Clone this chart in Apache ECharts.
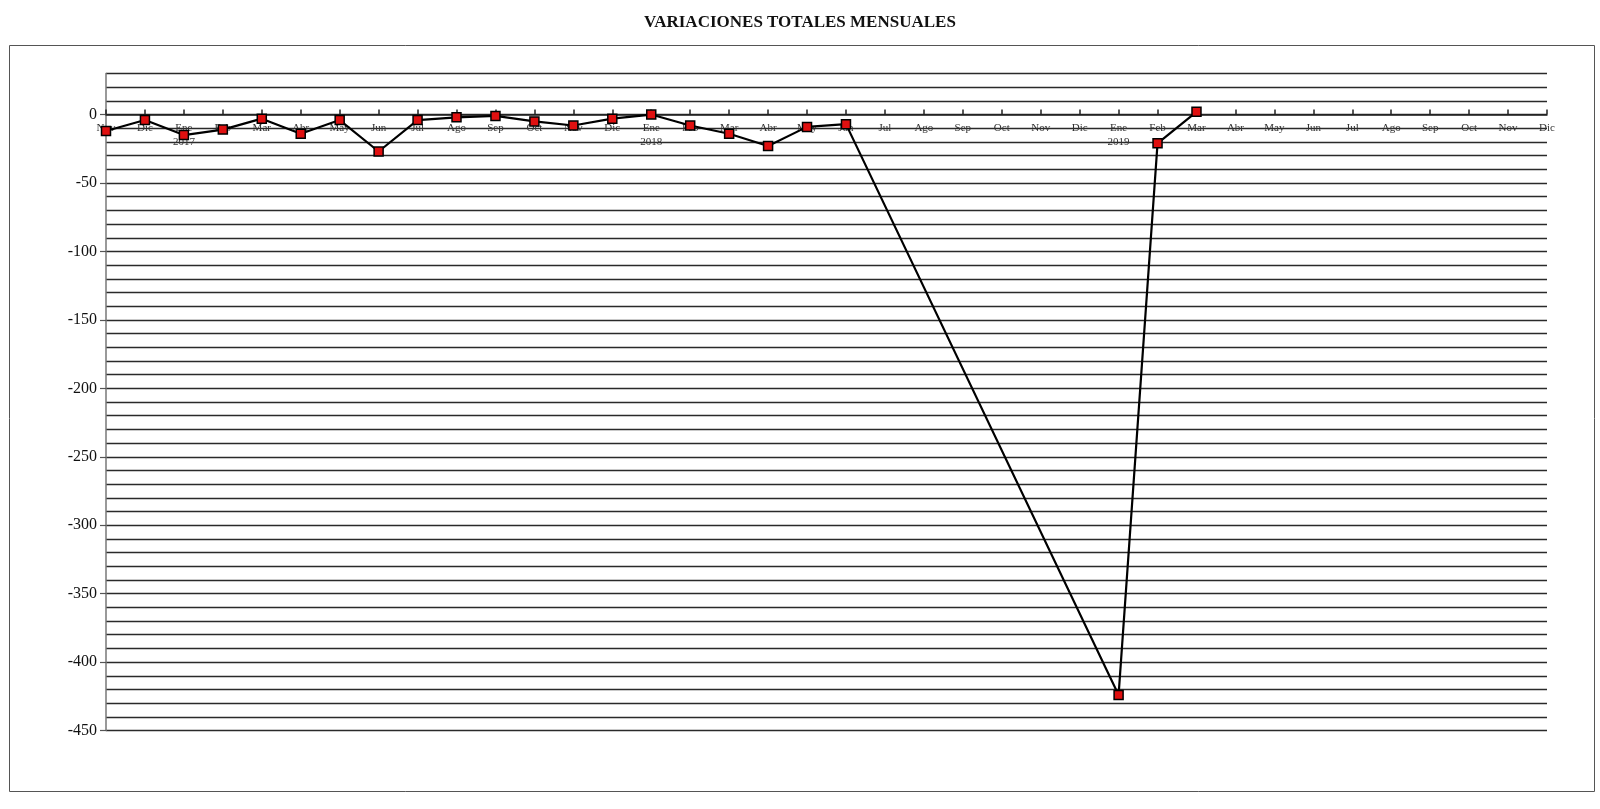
<!DOCTYPE html>
<html>
<head>
<meta charset="utf-8">
<script src="https://cdn.jsdelivr.net/npm/echarts@6/dist/echarts.min.js"></script>
<style>
html,body{margin:0;padding:0;background:#fff;}
#chart{width:1600px;height:809px;}
</style>
</head>
<body>
<div id="chart"></div>
<script>
const titleText = 'VARIACIONES TOTALES MENSUALES';
const categories = ['Nov','Dic','Ene\n2017','Feb','Mar','Abr','May','Jun','Jul','Ago','Sep','Oct','Nov','Dic',
  'Ene\n2018','Feb','Mar','Abr','May','Jun','Jul','Ago','Sep','Oct','Nov','Dic',
  'Ene\n2019','Feb','Mar','Abr','May','Jun','Jul','Ago','Sep','Oct','Nov','Dic'];
const values = [-12, -4, -15, -11, -3, -14, -4, -27, -4, -2, -1, -5, -8, -3,
  0, -8, -14, -23, -9, -7, null, null, null, null, null, null,
  -424, -21, 2, null, null, null, null, null, null, null, null, null];
const yTickLabels = [0, -50, -100, -150, -200, -250, -300, -350, -400, -450];
const yMin = -450, yMax = 30;

const FONT = "'Liberation Serif','Times New Roman',serif";
const gridTop = 73.5, gridBottom = 78.5, H = 809;
const plotH = H - gridTop - gridBottom;
const zeroOffset = -plotH * (0 - yMin) / (yMax - yMin);

const chart = echarts.init(document.getElementById('chart'), null, {renderer:'canvas'});
chart.setOption({
  animation: false,
  backgroundColor: '#fff',
  title: {
    text: titleText, left: 'center', top: 9,
    textStyle: {fontFamily: FONT, fontSize: 17, fontWeight: 'bold', color: '#111'}
  },
  graphic: [{
    type: 'rect', left: 7, top: 43, silent: true,
    shape: {width: 1585, height: 746},
    style: {fill: 'none', stroke: '#555', lineWidth: 1}
  }],
  grid: {left: 106, right: 53, top: gridTop, bottom: gridBottom, containLabel: false},
  xAxis: {
    type: 'category', data: categories, boundaryGap: false,
    position: 'bottom', offset: zeroOffset,
    axisLine: {onZero: false, lineStyle: {color: '#222', width: 1.5}},
    axisTick: {show: true, inside: true, length: 5, interval: 0, lineStyle: {color: '#222', width: 1.5}},
    axisLabel: {interval: 0, fontFamily: FONT, fontSize: 11, color: '#333', margin: 7, lineHeight: 14},
    splitLine: {show: false}
  },
  yAxis: [{
    type: 'value', min: yMin, max: yMax, interval: 10,
    axisLine: {show: false}, axisTick: {show: false}, axisLabel: {show: false},
    splitLine: {show: true, lineStyle: {color: '#2a2a2a', width: 1.4}}
  }, {
    type: 'value', min: yMin, max: yMax, interval: 50, position: 'left',
    axisLine: {show: true, lineStyle: {color: '#777', width: 1.5}},
    axisTick: {show: true, length: 6, customValues: yTickLabels, lineStyle: {color: '#555', width: 1.2}},
    axisLabel: {fontFamily: FONT, fontSize: 16, color: '#111', margin: 9, customValues: yTickLabels,
      formatter: v => (v > 0 ? '' : String(v))},
    splitLine: {show: false}
  }],
  series: [{
    type: 'line', data: values, yAxisIndex: 0, connectNulls: true,
    symbol: 'rect', symbolSize: 9, showAllSymbol: true,
    lineStyle: {color: '#000', width: 2.2},
    itemStyle: {color: '#e01010', borderColor: '#000', borderWidth: 1.5},
    z: 5
  }]
});
</script>
</body>
</html>
